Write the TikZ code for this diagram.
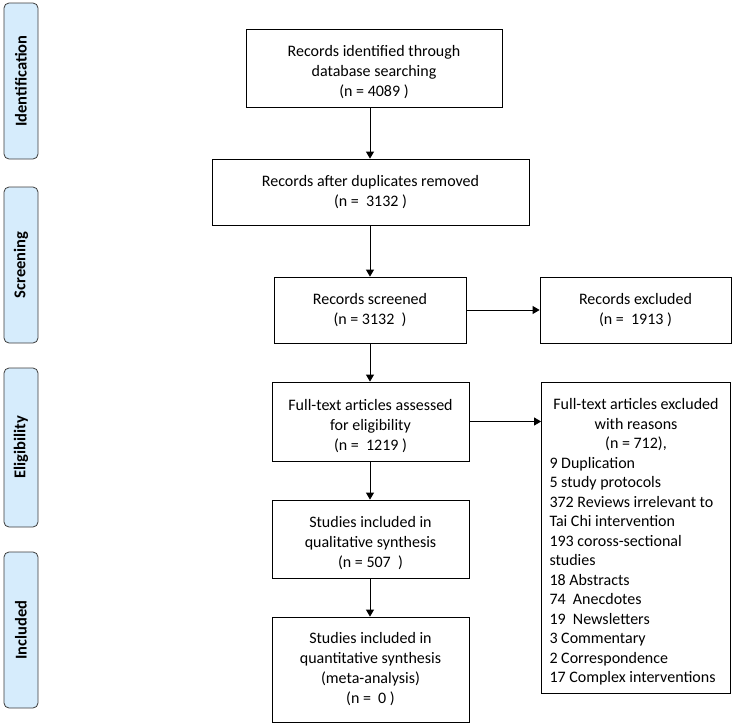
\documentclass[tikz,border=0pt]{standalone}
\usepackage{fontspec}
\setmainfont{Carlito}
\usetikzlibrary{arrows.meta}
\definecolor{sidefill}{RGB}{214,236,252}
\definecolor{sidedraw}{RGB}{60,60,60}
\newcommand{\lowstrut}{\rule{0pt}{20pt}}
\tikzset{
  box/.style={draw=black, line width=0.8pt, align=center, inner sep=2pt,
    font=\fontsize{16}{20}\selectfont},
  side/.style={draw=sidedraw, fill=sidefill, line width=0.8pt, rounded corners=5pt,
    font=\fontsize{16.5}{19}\selectfont\bfseries, rotate=90},
  arr/.style={line width=0.8pt, -{Triangle[length=7pt,width=8pt]}}
}
\begin{document}
\begin{tikzpicture}[x=1pt,y=-1pt]
\useasboundingbox (0,0) rectangle (740,726);
% side labels
\node[side, minimum width=156pt, minimum height=34pt] (sid) at (21,81) {Identification};
\node[side, minimum width=156pt, minimum height=34pt] (ssc) at (21,265) {Screening};
\node[side, minimum width=159pt, minimum height=34pt] (sel) at (21,447.5) {Eligibility};
\node[side, minimum width=156pt, minimum height=34pt] (sin) at (21,630) {Included};
% main boxes
\node[box, minimum width=256pt, minimum height=78pt] (b1) at (374,68)
  {\lowstrut Records identified through\\database searching\\(n = 4089 )};
\node[box, minimum width=317pt, minimum height=66pt] (b2) at (370.5,192)
  {Records after duplicates removed\\(n =\ \ 3132 )};
\node[box, minimum width=192pt, minimum height=66pt] (b3) at (370,310)
  {Records screened\\(n = 3132\ \ )};
\node[box, minimum width=191pt, minimum height=66pt] (e1) at (635.5,310)
  {Records excluded\\(n =\ \ 1913 )};
\node[box, minimum width=197pt, minimum height=79pt] (b4) at (370.5,421.5)
  {\lowstrut Full-text articles assessed\\for eligibility\\(n =\ \ 1219 )};
\node[box, minimum width=197pt, minimum height=78pt] (b5) at (370.5,539)
  {\lowstrut Studies included in\\qualitative synthesis\\(n = 507\ \ )};
\node[box, minimum width=197pt, minimum height=105pt] (b6) at (370.5,669.5)
  {Studies included in\\quantitative synthesis\\(meta-analysis)\\(n =\ \ 0 )};
\node[box, minimum width=189pt, minimum height=311pt, align=none, text width=173pt,
  inner xsep=8pt, font=\fontsize{16}{19.5}\selectfont] (e2) at (636,537.5)
  {{\centering \lowstrut Full-text articles excluded\\with reasons\\(n = 712),\par}
   \raggedright 9 Duplication\\5 study protocols\\372 Reviews irrelevant to\\Tai Chi intervention\\193 coross-sectional\\studies\\18 Abstracts\\74\ \ Anecdotes\\19\ \ Newsletters\\3 Commentary\\2 Correspondence\\17 Complex interventions};
% connectors
\draw[arr] (b1.south -| b3.north) -- (b2.north -| b3.north);
\draw[arr] (b2.south -| b3.north) -- (b3.north);
\draw[arr] (b3.east) -- (e1.west);
\draw[arr] (b3.south) -- (b4.north -| b3.south);
\draw[arr] (b4.east) -- (b4.east -| e2.west);
\draw[arr] (b4.south -| b3.south) -- (b5.north -| b3.south);
\draw[arr] (b5.south -| b3.south) -- (b6.north -| b3.south);
\end{tikzpicture}
\end{document}
